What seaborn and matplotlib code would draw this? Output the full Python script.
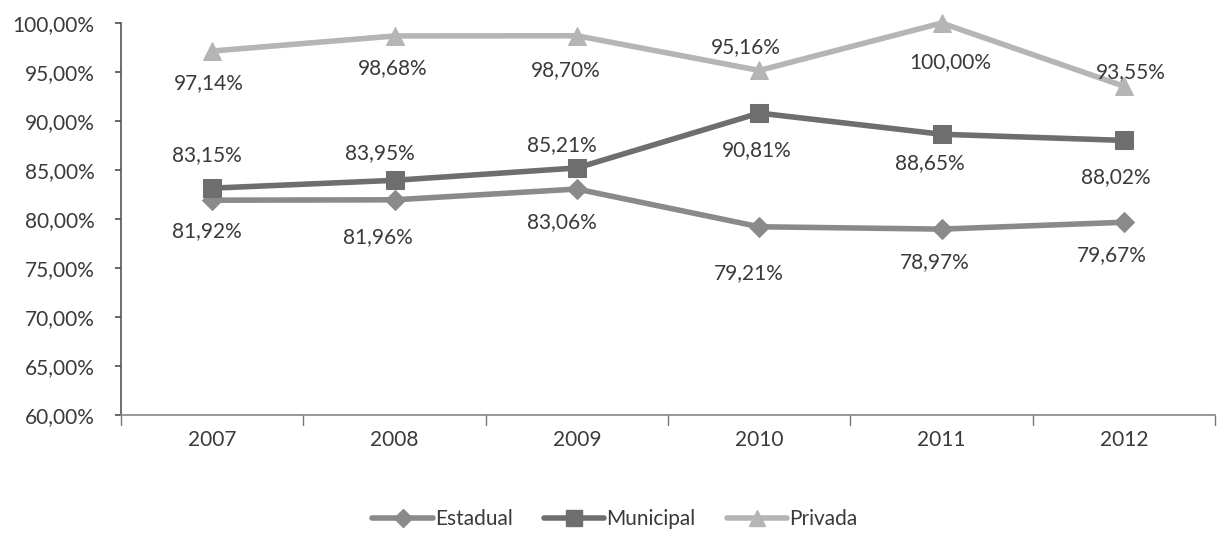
import matplotlib
matplotlib.use("Agg")
import matplotlib.pyplot as plt
import seaborn as sns
import pandas as pd
from matplotlib.lines import Line2D

years = ["2007", "2008", "2009", "2010", "2011", "2012"]
estadual = [81.92, 81.96, 83.06, 79.21, 78.97, 79.67]
municipal = [83.15, 83.95, 85.21, 90.81, 88.65, 88.02]
privada = [97.14, 98.68, 98.70, 95.16, 100.00, 93.55]
y_ticks = [60, 65, 70, 75, 80, 85, 90, 95, 100]

# label offsets in pixels (dx, dy up-positive) -- styling only
est_off = [(-5, -31), (-17, -37), (-15, -33), (-10, -46), (-7, -33), (-12, -33)]
mun_off = [(-5, 33), (-15, 27), (-15, 23), (-2, -37), (-12, -29), (-8, -37)]
pri_off = [(-3, -32), (-2, -32), (-11, -34), (-13, 23), (9, -39), (7, 14)]

sns.set_theme(style="white")
plt.rcParams['font.family'] = ['Lato', 'DejaVu Sans']

fig = plt.figure(figsize=(12.3, 5.38), dpi=100)
ax = fig.add_axes([0.0984, 0.2286, 0.8895, 0.7286])

series = [
    ("Estadual", estadual, "#8a8a8a", "D", 10, est_off),
    ("Municipal", municipal, "#6e6e6e", "s", 13, mun_off),
    ("Privada", privada, "#b5b5b5", "^", 13, pri_off),
]

xs = list(range(len(years)))
handles = []
px = 72.0 / 100.0
for name, vals, col, mk, ms, offs in series:
    df = pd.DataFrame({"x": xs, "y": vals})
    sns.lineplot(data=df, x="x", y="y", ax=ax, color=col, linewidth=4, clip_on=False,
                 marker=mk, markersize=ms, markeredgecolor=col, markerfacecolor=col)
    for x, v, (dx, dy) in zip(xs, vals, offs):
        txt = f"{v:.2f}".replace(".", ",") + "%"
        ax.annotate(txt, (x, v), xytext=(dx * px, dy * px), textcoords="offset points",
                    ha="center", va="center", fontsize=15, color="#3a3a3a")
    handles.append(Line2D([0], [0], color=col, lw=4, marker=mk, markersize=ms * 0.9,
                          markerfacecolor=col, markeredgecolor=col))

ax.set_xlim(-0.5, 5.5)
ax.set_ylim(60, 100)
ax.set_yticks(y_ticks)
ax.set_yticklabels([f"{t:.2f}".replace(".", ",") + "%" for t in y_ticks])
ax.set_xticks(xs)
ax.set_xticklabels(years)
ax.set_xlabel("")
ax.set_ylabel("")
ax.tick_params(axis="both", labelsize=15, labelcolor="#3a3a3a")
ax.tick_params(axis="y", left=True, length=4, color="#555555", pad=15)
ax.tick_params(axis="x", bottom=False, pad=5)
for x in [-0.5, 0.5, 1.5, 2.5, 3.5, 4.5, 5.5]:
    ax.plot([x, x], [60, 59.0], color="#777777", lw=1, clip_on=False)

for s in ["top", "right"]:
    ax.spines[s].set_visible(False)
ax.spines["left"].set_color("#555555")
ax.spines["bottom"].set_color("#888888")
ax.spines["left"].set_linewidth(1.2)
ax.spines["bottom"].set_linewidth(1.2)

fig.legend(handles, [s[0] for s in series], loc="center", bbox_to_anchor=(0.5, 0.035),
           ncol=3, frameon=False, fontsize=15, handlelength=2.9, columnspacing=1.5,
           handletextpad=0.1, labelcolor="#3a3a3a")

fig.savefig("out.png", dpi=100, facecolor="white")
